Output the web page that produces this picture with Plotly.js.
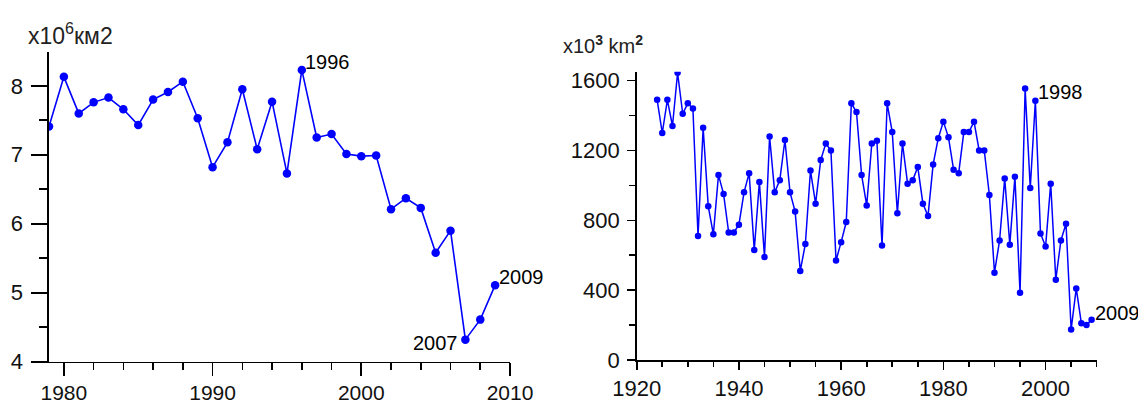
<!DOCTYPE html>
<html>
<head>
<meta charset="utf-8">
<script src="https://cdn.plot.ly/plotly-3.0.1.min.js"></script>
<style>
html,body{margin:0;padding:0;background:#fff;}
#chart{width:1138px;height:404px;}
</style>
</head>
<body>
<div id="chart"></div>
<script>
// Left panel: years and sea-ice extent (x10^6 km2)
var leftYears = [1979,1980,1981,1982,1983,1984,1985,1986,1987,1988,1989,1990,1991,1992,1993,1994,1995,1996,1997,1998,1999,2000,2001,2002,2003,2004,2005,2006,2007,2008,2009];
var leftValues = [7.41,8.13,7.60,7.76,7.83,7.66,7.43,7.80,7.91,8.06,7.53,6.82,7.18,7.95,7.08,7.77,6.73,8.23,7.25,7.30,7.01,6.98,6.99,6.21,6.37,6.23,5.58,5.90,4.32,4.61,5.11];

// Right panel: years and area (x10^3 km2)
var rightYears = [1924,1925,1926,1927,1928,1929,1930,1931,1932,1933,1934,1935,1936,1937,1938,1939,1940,1941,1942,1943,1944,1945,1946,1947,1948,1949,1950,1951,1952,1953,1954,1955,1956,1957,1958,1959,1960,1961,1962,1963,1964,1965,1966,1967,1968,1969,1970,1971,1972,1973,1974,1975,1976,1977,1978,1979,1980,1981,1982,1983,1984,1985,1986,1987,1988,1989,1990,1991,1992,1993,1994,1995,1996,1997,1998,1999,2000,2001,2002,2003,2004,2005,2006,2007,2008,2009];
var rightValues = [1490,1300,1490,1340,1645,1410,1470,1440,710,1330,880,720,1060,950,730,730,775,960,1070,630,1020,590,1280,960,1030,1260,960,850,510,665,1085,895,1145,1240,1200,570,675,790,1470,1420,1060,885,1240,1255,655,1470,1305,840,1240,1010,1030,1105,895,825,1120,1270,1365,1275,1090,1070,1305,1305,1365,1200,1200,945,500,685,1040,660,1050,385,1555,985,1485,725,650,1010,460,685,780,175,410,210,200,230];

// Point labels
var leftLabels = [{year:1996, text:'1996'}, {year:2007, text:'2007'}, {year:2009, text:'2009'}];
var rightLabels = [{year:1998, text:'1998'}, {year:2009, text:'2009'}];

var W = 1138, H = 404;
var FONT = 'Liberation Sans, Arial, sans-serif';
var BLUE = '#0000ff';

function px(x){return x/W;}
function py(y){return 1 - y/H;}

var traces = [
  {x:leftYears, y:leftValues, xaxis:'x', yaxis:'y', mode:'lines+markers', type:'scatter',
   line:{color:BLUE, width:1.6}, marker:{color:BLUE, size:8.5, symbol:'circle'}, hoverinfo:'x+y'},
  {x:rightYears, y:rightValues, xaxis:'x2', yaxis:'y2', mode:'lines+markers', type:'scatter',
   line:{color:BLUE, width:1.5}, marker:{color:BLUE, size:6.5, symbol:'circle'}, hoverinfo:'x+y'}
];

function valAt(years, vals, yr){return vals[years.indexOf(yr)];}

var annotations = [];
var lOpts = {
  '1996': {xanchor:'left', xshift:1, yshift:8},
  '2007': {xanchor:'right', xshift:-5, yshift:-3},
  '2009': {xanchor:'left', xshift:2, yshift:8}
};
leftLabels.forEach(function(l){
  var o = lOpts[l.text];
  annotations.push({xref:'x', yref:'y', x:l.year, y:valAt(leftYears,leftValues,l.year), text:l.text,
    showarrow:false, xanchor:o.xanchor, yanchor:'middle', xshift:o.xshift, yshift:o.yshift,
    font:{family:FONT, size:20, color:'#000'}});
});
var rOpts = {
  '1998': {xanchor:'left', xshift:1, yshift:9},
  '2009': {xanchor:'left', xshift:1, yshift:7}
};
rightLabels.forEach(function(l){
  var o = rOpts[l.text];
  annotations.push({xref:'x2', yref:'y2', x:l.year, y:valAt(rightYears,rightValues,l.year), text:l.text,
    showarrow:false, xanchor:o.xanchor, yanchor:'middle', xshift:o.xshift, yshift:o.yshift,
    font:{family:FONT, size:20, color:'#000'}});
});
// unit titles
annotations.push({xref:'paper', yref:'paper', x:px(26), y:py(34), xanchor:'left', yanchor:'middle',
  text:'x10<sup>6</sup>км2', showarrow:false, font:{family:FONT, size:23, color:'#222'}});
annotations.push({xref:'paper', yref:'paper', x:px(561), y:py(45), xanchor:'left', yanchor:'middle',
  text:'x10<sup><b>3</b></sup> km<sup><b>2</b></sup>', showarrow:false, font:{family:FONT, size:20, color:'#222'}});

function axisBase(){
  return {showgrid:false, zeroline:false, showline:true, linecolor:'#000', linewidth:1.6,
    ticks:'outside', tickcolor:'#000', tickwidth:1.6, automargin:false, fixedrange:true,
    tickfont:{family:FONT, size:22, color:'#111'}};
}

var xa = axisBase();
Object.assign(xa, {domain:[px(49), px(510)], range:[1979, 2010], tick0:1980, dtick:10, ticklen:13,
  anchor:'y', ticklabelstandoff:-2,
  minor:{dtick:2, tick0:1980, ticklen:7, tickwidth:1.6, tickcolor:'#000', ticks:'outside', showgrid:false},
  tickfont:{family:FONT, size:21, color:'#111'}});
var ya = axisBase();
Object.assign(ya, {domain:[1-361.7/H, 1-52/H], range:[4, 8.49], tick0:4, dtick:1, ticklen:16,
  anchor:'x', ticklabelstandoff:4, minor:{dtick:0.5, tick0:4, ticklen:8, tickwidth:1.6, tickcolor:'#000', ticks:'outside', showgrid:false},
  tickfont:{family:FONT, size:22, color:'#111'}});
var xa2 = axisBase();
Object.assign(xa2, {domain:[px(636.7), px(1096.7)], range:[1920, 2010], tick0:1920, dtick:20, ticklen:8,
  anchor:'y2', minor:{dtick:5, tick0:1920, ticklen:5, tickwidth:1.6, tickcolor:'#000', ticks:'outside', showgrid:false},
  tickfont:{family:FONT, size:22, color:'#111'}});
var ya2 = axisBase();
Object.assign(ya2, {domain:[1-360/H, 1-71.7/H], range:[0, 1651], tick0:0, dtick:400, ticklen:8,
  anchor:'x2', ticklabelstandoff:3, minor:{dtick:200, tick0:0, ticklen:6, tickwidth:1.6, tickcolor:'#000', ticks:'outside', showgrid:false},
  tickfont:{family:FONT, size:22, color:'#111'}});

var layout = {
  width:W, height:H, margin:{l:0, r:0, t:0, b:0}, paper_bgcolor:'#fff', plot_bgcolor:'#fff',
  showlegend:false, xaxis:xa, yaxis:ya, xaxis2:xa2, yaxis2:ya2, annotations:annotations,
  font:{family:FONT}
};

Plotly.newPlot('chart', traces, layout, {displayModeBar:false, staticPlot:true});
</script>
</body>
</html>
